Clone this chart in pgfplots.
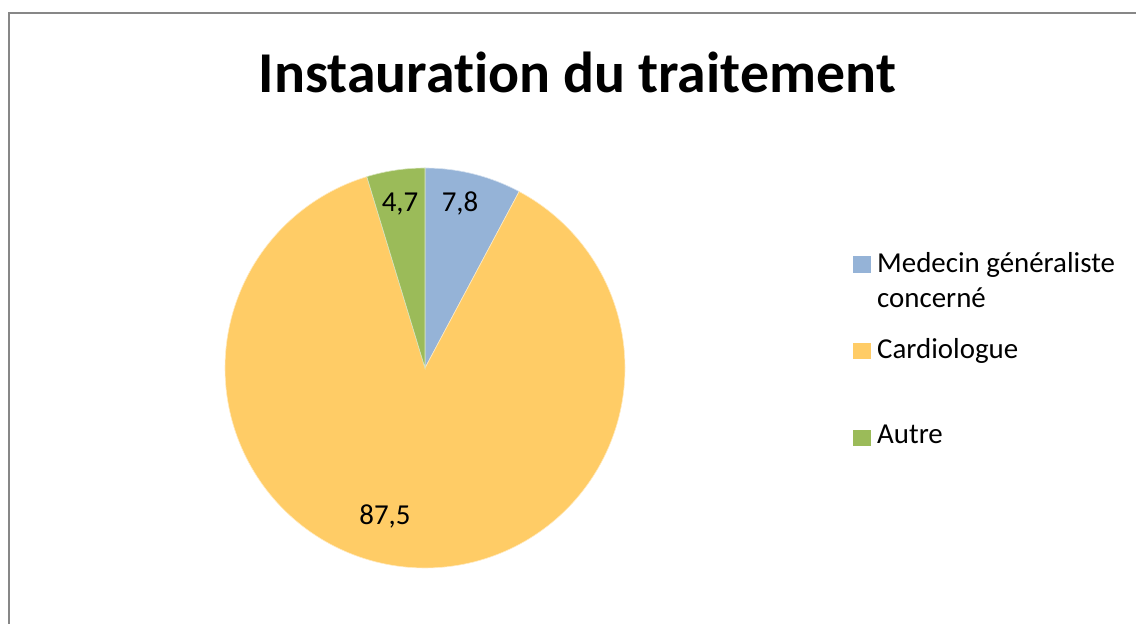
\documentclass[border=0pt]{standalone}
\usepackage{pgfplots}
\pgfplotsset{compat=1.18}
\usepackage{fontspec}
\setmainfont{Carlito}[Ligatures={NoCommon}]
\definecolor{cblue}{HTML}{95B3D7}
\definecolor{corange}{HTML}{FFCC66}
\definecolor{cgreen}{HTML}{9BBB59}
\definecolor{frame}{HTML}{878787}
% data (percent)
\def\vMed{7.8}
\def\vCar{87.5}
\def\vAut{4.7}
\pgfmathsetmacro\aA{90}
\pgfmathsetmacro\aB{90-3.6*\vMed}
\pgfmathsetmacro\aC{\aB-3.6*\vCar}
\pgfmathsetmacro\aD{\aC-3.6*\vAut}
\begin{document}
\begin{tikzpicture}
\begin{axis}[name=ax,
  hide axis, scale only axis,
  width=1136bp, height=624bp,
  xmin=0, xmax=1136, ymin=0, ymax=624,
  clip=true]
% frame
\draw[frame, line width=2.2bp] (axis cs:9,-30) -- (axis cs:9,611) -- (axis cs:1160,611);
% pie slices
\addplot[fill=cblue, draw=white!60!cblue, line width=0.6bp, domain=\aB:\aA, samples=40]
  ({425+200*cos(x)},{256+200*sin(x)}) -- (axis cs:425,256) -- cycle;
\addplot[fill=corange, draw=white!60!corange, line width=0.6bp, domain=\aC:\aB, samples=200]
  ({425+200*cos(x)},{256+200*sin(x)}) -- (axis cs:425,256) -- cycle;
\addplot[fill=cgreen, draw=white!60!cgreen, line width=0.6bp, domain=\aD:\aC, samples=30]
  ({425+200*cos(x)},{256+200*sin(x)}) -- (axis cs:425,256) -- cycle;
% data labels
\node[anchor=base, font=\fontsize{29}{34}\selectfont] at (axis cs:400,412) {4,7};
\node[anchor=base, font=\fontsize{29}{34}\selectfont] at (axis cs:460,412) {7,8};
\node[anchor=base, font=\fontsize{29}{34}\selectfont] at (axis cs:385,99) {87,5};
% title
\node[anchor=base, font=\bfseries\fontsize{58}{66}\selectfont] at (axis cs:577.5,531) {Instaurat\kern0pt ion du trait\kern0pt ement};
% legend
\fill[cblue] (axis cs:853,351) rectangle (axis cs:871,368);
\fill[corange] (axis cs:853,265) rectangle (axis cs:871,281);
\fill[cgreen] (axis cs:853,178) rectangle (axis cs:871,194);
\node[anchor=base west, inner sep=0pt, font=\fontsize{29}{34}\selectfont] at (axis cs:877,351) {Medecin généraliste};
\node[anchor=base west, inner sep=0pt, font=\fontsize{29}{34}\selectfont] at (axis cs:877,316) {concerné};
\node[anchor=base west, inner sep=0pt, font=\fontsize{29}{34}\selectfont] at (axis cs:877,265) {Cardiologue};
\node[anchor=base west, inner sep=0pt, font=\fontsize{29}{34}\selectfont] at (axis cs:877,180) {Autre};
\end{axis}
\pgfresetboundingbox
\useasboundingbox (ax.south west) rectangle (ax.north east);
\end{tikzpicture}
\end{document}
